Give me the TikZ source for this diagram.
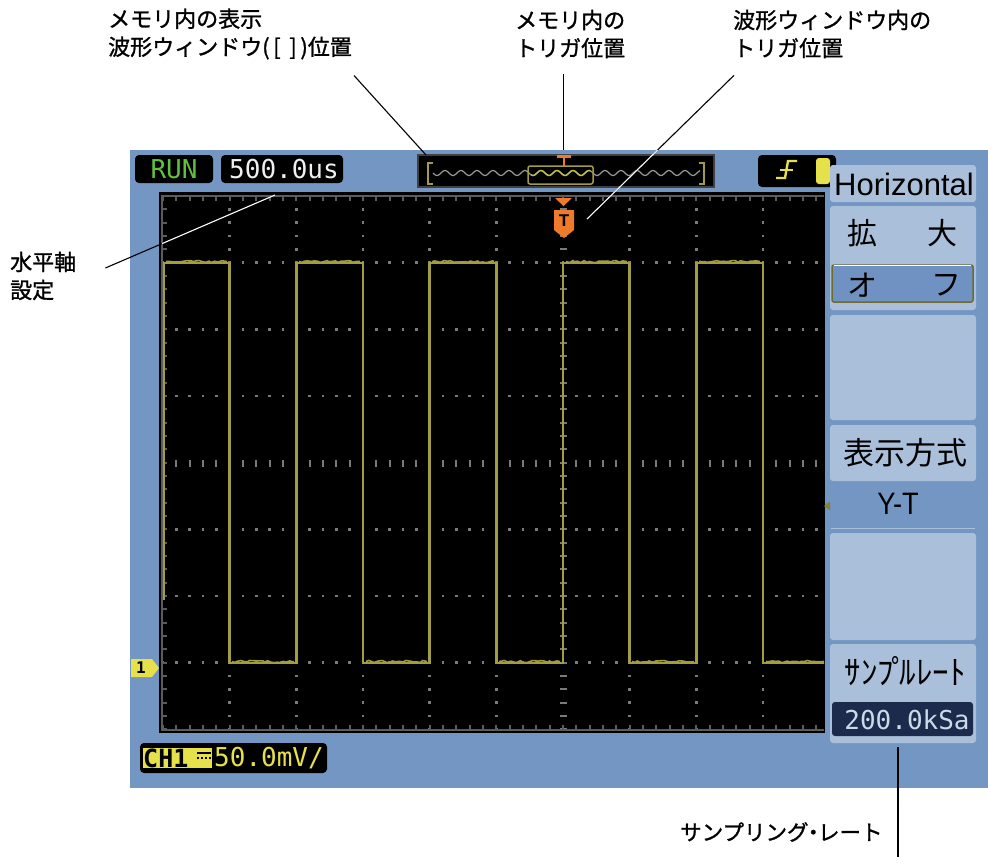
\documentclass[tikz,border=0pt]{standalone}
\usepackage{fontspec}
\usepackage{graphicx}
\setsansfont{Liberation Sans}
\setmonofont{DejaVu Sans Mono}
\newfontfamily\jp{Noto Sans CJK JP}
\newfontfamily\jplbl{Noto Sans CJK JP}[FakeBold=1.2]
\usetikzlibrary{decorations.pathmorphing}

\definecolor{scrblue}{HTML}{7396C3}
\definecolor{menulight}{HTML}{AAC0DA}
\definecolor{menubtn}{HTML}{6F92C2}
\definecolor{navy}{HTML}{1C2A4C}
\definecolor{tracecol}{HTML}{A29C42}
\definecolor{chyel}{HTML}{E6E04A}
\definecolor{trigorange}{HTML}{EE7A2C}
\definecolor{gridgray}{HTML}{7A7A7A}
\definecolor{bordergray}{HTML}{5C5C5C}
\definecolor{rungreen}{HTML}{5EC23E}
\definecolor{olivedark}{HTML}{6E6A30}

\tikzset{
  callout/.style={font=\jplbl\fontsize{22}{28}\selectfont, align=left, inner sep=0pt},
  leader/.style={line width=1.1pt},
  statusbox/.style={fill=black, rounded corners=4pt},
  menubox/.style={fill=menulight, rounded corners=3pt},
  menutext/.style={font=\jp\fontsize{30}{30}\selectfont, inner sep=0pt},
  lcd/.style={font=\ttfamily\fontsize{26}{26}\selectfont, inner sep=0pt},
  gridline/.style={gridgray, line width=2.4pt, dash pattern=on 2.4pt off 10.933pt, dash phase=1.2pt},
  centreline/.style={gridgray, line width=7pt, dash pattern=on 2pt off 11.333pt, dash phase=1pt},
  borderticks/.style={bordergray, line width=5pt, dash pattern=on 2pt off 11.333pt, dash phase=1pt},
  tracepen/.style={tracecol, line width=2.6pt, line join=miter},
  fuzz/.style={tracecol, line width=1.6pt, decorate,
    decoration={random steps, segment length=3pt, amplitude=1.1pt}}
}

\begin{document}
\begin{tikzpicture}[x=1pt,y=-1pt]
\useasboundingbox (0,0) rectangle (988,863);
\pgfmathsetseed{11}

% screen and graticule
\fill[scrblue] (130,150) rectangle (988,788);
\fill[black] (159,192) rectangle (825,733);
\begin{scope}
  \clip (162,195) rectangle (824,730);
  \foreach \k in {1,2,3,5,6,7}
    \draw[gridline] (163,196+66.667*\k) -- (966,196+66.667*\k);
  \foreach \k in {1,2,3,4,5,7,8,9}
    \draw[gridline] (163+66.667*\k,196) -- (163+66.667*\k,730);
  \draw[centreline] (563,196) -- (563,730);
  \draw[centreline] (163,463) -- (966,463);
  \draw[borderticks] (163,198) -- (966,198);
  \draw[borderticks] (163,727.5) -- (966,727.5);
  \draw[borderticks] (164.5,196) -- (164.5,730);
  % square wave
  \draw[tracepen] (164,600) -- (164,263) -- (229.7,263) -- (229.7,663)
    -- (296.3,663) -- (296.3,263) -- (363,263) -- (363,663)
    -- (429.7,663) -- (429.7,263) -- (496.3,263) -- (496.3,663)
    -- (563,663) -- (563,263) -- (629.7,263) -- (629.7,663)
    -- (696.3,663) -- (696.3,263) -- (763,263) -- (763,663) -- (830,663);
  \foreach \a/\b in {166/227, 299/360, 432/494, 566/627, 699/760}
    \draw[fuzz] (\a,261.5) -- (\b,261.5);
  \foreach \a/\b in {232/294, 366/427, 499/560, 632/694, 766/824}
    \draw[fuzz] (\a,661.5) -- (\b,661.5);
\end{scope}
\draw[bordergray, line width=2.5pt] (824,196) -- (162,196) -- (162,730) -- (824,730);

% status line
\fill[statusbox] (135,155) rectangle (213,183);
\node[lcd, text=rungreen] (runlbl) at (174,169.5) {RUN};
\fill[statusbox] (221,155) rectangle (343,183);
\node[lcd, text=white!88!gray] (timebase) at (284,169.5) {500.0us};

% memory window
\draw[bordergray!70!black, fill=black, line width=1.5pt] (418,155) rectangle (714,187);
\draw[gray!80, line width=1.2pt] plot[domain=433:700, samples=220]
  (\x, {173+2.5*sin(22.5*(\x-433))});
\draw[tracecol, line width=1.5pt, rounded corners=2pt] (528,166) rectangle (593,184);
\draw[chyel!85!black, line width=1.4pt] plot[domain=531:590, samples=60]
  (\x, {173+2.5*sin(22.5*(\x-433))});
\draw[tracecol, line width=1.8pt] (433,163) -- (428,163) -- (428,184) -- (433,184);
\draw[tracecol, line width=1.8pt] (699,163) -- (704,163) -- (704,184) -- (699,184);
\fill[trigorange] (556.5,155) rectangle (570.5,158);
\draw[trigorange, line width=2pt] (563.5,157) -- (563.5,166);

% trigger edge box
\fill[statusbox] (758,155) rectangle (836,187);
\draw[chyel, line width=2.4pt] (776,178) -- (785,178) -- (788,161) -- (797,161);
\draw[chyel, line width=2.4pt] (780,170) -- (793,170);
\fill[chyel, rounded corners=3pt] (816,158) rectangle (830,184);

% trigger marker in the graticule
\fill[trigorange] (555,198) -- (572,198) -- (563.5,206) -- cycle;
\fill[trigorange] (554,210) -- (574,210) -- (574,230) -- (564,238) -- (554,230) -- cycle;
\node[font=\sffamily\bfseries\fontsize{17}{17}\selectfont, text=black, inner sep=0pt]
  (tmark) at (564,221) {T};

% channel marker and scale
\fill[chyel] (131,659) -- (152,659) -- (159,668) -- (152,677) -- (131,677) -- cycle;
\node[font=\ttfamily\bfseries\fontsize{16}{16}\selectfont, text=black, inner sep=0pt]
  (chmark) at (141,668) {1};
\fill[statusbox] (140,743) rectangle (327,773);
\fill[chyel] (143,748) rectangle (212,768);
\node[lcd, font=\ttfamily\bfseries\fontsize{25}{25}\selectfont, text=black, anchor=west]
  (chname) at (143,758) {CH1};
\draw[black, line width=1.6pt] (197,753) -- (211,753);
\draw[black, line width=1.6pt, dash pattern=on 2pt off 2pt] (197,758) -- (211,758);
\node[lcd, text=chyel, anchor=west] (vdiv) at (214,758.5) {50.0mV/};

% soft menu
\fill[menubox] (830,165) rectangle (976,202);
\node[font=\sffamily\fontsize{31}{31}\selectfont, inner sep=0pt] (menuhead) at (904,184) {Horizontal};
\fill[menubox] (830,206) rectangle (976,310);
\node[menutext] (expA) at (862,233) {拡};
\node[menutext] (expB) at (942,233) {大};
\draw[fill=menubtn, draw=olivedark, line width=1.5pt, rounded corners=2pt] (832,265) rectangle (973,302);
\draw[white, line width=1.6pt] (834,265.5) -- (971,265.5);
\node[menutext] (offA) at (862,285) {オ};
\node[menutext] (offB) at (946,285) {フ};
\fill[menubox] (830,315) rectangle (976,420);
\fill[menubox] (830,425) rectangle (976,481);
\node[menutext, font=\jp\fontsize{31}{31}\selectfont] (dispmode) at (905,453) {表示方式};
\fill[olivedark!80!chyel] (824,506) -- (830,501.5) -- (830,510.5) -- cycle;
\node[inner sep=0pt, font=\sffamily\fontsize{31}{31}\selectfont] (yt) at (898,504) {\scalebox{0.88}[1]{Y-T}};
\draw[menulight, line width=1.2pt] (831,528.5) -- (975,528.5);
\fill[menubox] (830,533) rectangle (976,640);
\fill[menubox] (830,644) rectangle (976,743);
\node[menutext, font=\jp\fontsize{33}{33}\selectfont] (ratehead) at (905,671) {ｻﾝﾌ\kern-3pt ﾟ\kern-8pt ﾙﾚｰﾄ};
\fill[navy, rounded corners=3pt] (832,702) rectangle (973,736);
\node[lcd, text=menulight!60!white] (rateval) at (907,720) {200.0kSa};

% callouts
\node[callout, anchor=west] (lblwin) at (108,34) {メモリ内の表示\\波形ウィンドウ(\,[\ \,]\,)位置};
\node[callout, anchor=west] (lblmem) at (515,34) {メモリ内の\\トリガ位置};
\node[callout, anchor=west] (lbltrig) at (733,34) {波形ウィンドウ内の\\トリガ位置};
\node[callout, anchor=west] (lblhor) at (10,276) {水平軸\\設定};
\node[callout, anchor=west, font=\jplbl\fontsize{21.5}{28}\selectfont] (lblrate) at (680,832)
  {サンプリング\kern-6pt・\kern-6pt レート};

\coordinate (winpos) at (426,155);
\coordinate (memtrig) at (563.5,150);
\coordinate (wintrig) at (587,219);
\coordinate (horset) at (275,195);
\coordinate (ratebox) at (898,747);

\draw[leader] ([xshift=2pt,yshift=-16pt]lblwin.south east) -- (winpos);
\draw[leader] ([yshift=-16pt]lblmem.south -| memtrig) -- (memtrig);
\draw[leader] ([xshift=1pt,yshift=-17pt]lbltrig.south west) -- (wintrig);
\draw[leader] ([xshift=29pt,yshift=8pt]lblhor.east) -- (horset);
\draw[leader] (ratebox) -- ([yshift=-15pt]ratebox |- lblrate.south);
\begin{scope}
  \clip (130,150) rectangle (988,788);
  \draw[leader, white] ([xshift=1pt,yshift=-17pt]lbltrig.south west) -- (wintrig);
\end{scope}
\begin{scope}
  \clip (162,150) rectangle (988,788);
  \draw[leader, white] ([xshift=29pt,yshift=8pt]lblhor.east) -- (horset);
\end{scope}
\end{tikzpicture}
\end{document}
